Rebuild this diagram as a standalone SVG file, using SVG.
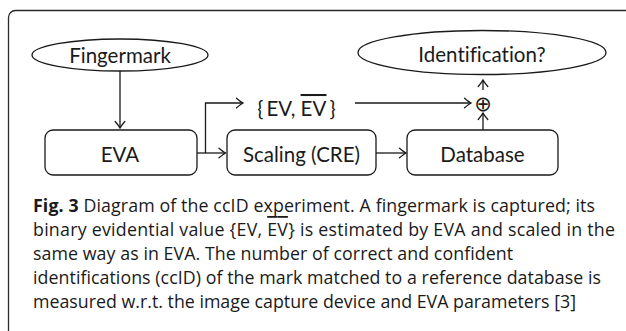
<svg xmlns="http://www.w3.org/2000/svg" width="626" height="331" viewBox="0 0 626 331">
  <defs>
    <marker id="tip" markerUnits="userSpaceOnUse" markerWidth="12" markerHeight="12" refX="0" refY="0" viewBox="-8 -6 10 12" orient="auto">
      <path d="M-6.5,-4.8 Q-2,-1 0,0 Q-2,1 -6.5,4.8" fill="none" stroke="#1a1a1a" stroke-width="1.3" stroke-linecap="round"/>
    </marker>
    <style>
      .frame { fill: #fff; stroke: #2a2a2a; stroke-width: 1.3; }
      .box { fill: #fff; stroke: #1a1a1a; stroke-width: 1.3; }
      .lbl { font-family: Lato, "Open Sans", "Liberation Sans", sans-serif; font-size: 20.5px; fill: #1a1a1a; text-anchor: middle; font-variant-ligatures: none; }
      .edge { fill: none; stroke: #1a1a1a; stroke-width: 1.3; marker-end: url(#tip); }
      .cap { font-family: "Open Sans", "Noto Sans", "Liberation Sans", sans-serif; font-size: 17.8px; fill: #1a1a1a; }
      .capb { font-weight: bold; }
      .over { text-decoration: overline; }
    </style>
  </defs>

  <rect class="frame" x="8.5" y="10.5" width="660" height="360" rx="7"/>

  <g id="connectors">
    <path class="edge" d="M120,71 V128"/>
    <path class="edge" d="M197,153 H225.5"/>
    <path class="edge" d="M205.5,153 V103 H243"/>
    <path class="edge" d="M355,103 H471"/>
    <path class="edge" d="M376,153 H406"/>
    <path class="edge" d="M483,130 V113"/>
    <path class="edge" d="M483,90 V80"/>
  </g>

  <g id="fingermark">
    <ellipse class="box" cx="120" cy="55" rx="88" ry="16"/>
    <text class="lbl" x="120" y="62.5">Fingermark</text>
  </g>

  <g id="eva">
    <rect class="box" x="45" y="130" width="152" height="45" rx="8"/>
    <text class="lbl" x="120" y="162">EVA</text>
  </g>

  <g id="scaling">
    <rect class="box" x="227" y="130" width="149" height="45" rx="8"/>
    <text class="lbl" x="301.5" y="162">Scaling (CRE)</text>
  </g>

  <g id="database">
    <rect class="box" x="407" y="130" width="151" height="45" rx="8"/>
    <text class="lbl" x="482.5" y="162">Database</text>
  </g>

  <g id="identification">
    <ellipse class="box" cx="482" cy="52.5" rx="124" ry="22"/>
    <text class="lbl" x="482" y="62">Identification?</text>
  </g>

  <g id="ev-pair">
    <text class="lbl" x="296.5" y="116">{<tspan dx="3">EV, </tspan><tspan class="over">EV</tspan><tspan dx="3">}</tspan></text>
  </g>

  <g id="combine">
    <text x="483" y="110.5" font-family="DejaVu Sans, sans-serif" font-size="21" text-anchor="middle" fill="#1a1a1a">⊕</text>
  </g>

  <g id="caption">
    <text class="cap" x="33" y="212" textLength="562" lengthAdjust="spacing"><tspan class="capb">Fig. 3</tspan> Diagram of the ccID experiment. A fingermark is captured; its</text>
    <text class="cap" x="33" y="236" textLength="582" lengthAdjust="spacing">binary evidential value {EV, <tspan class="over">EV</tspan>} is estimated by EVA and scaled in the</text>
    <text class="cap" x="33" y="260" textLength="480" lengthAdjust="spacing">same way as in EVA. The number of correct and confident</text>
    <text class="cap" x="33" y="284" textLength="568" lengthAdjust="spacing">identifications (ccID) of the mark matched to a reference database is</text>
    <text class="cap" x="33" y="308" textLength="543" lengthAdjust="spacing">measured w.r.t. the image capture device and EVA parameters [3]</text>
  </g>
</svg>
